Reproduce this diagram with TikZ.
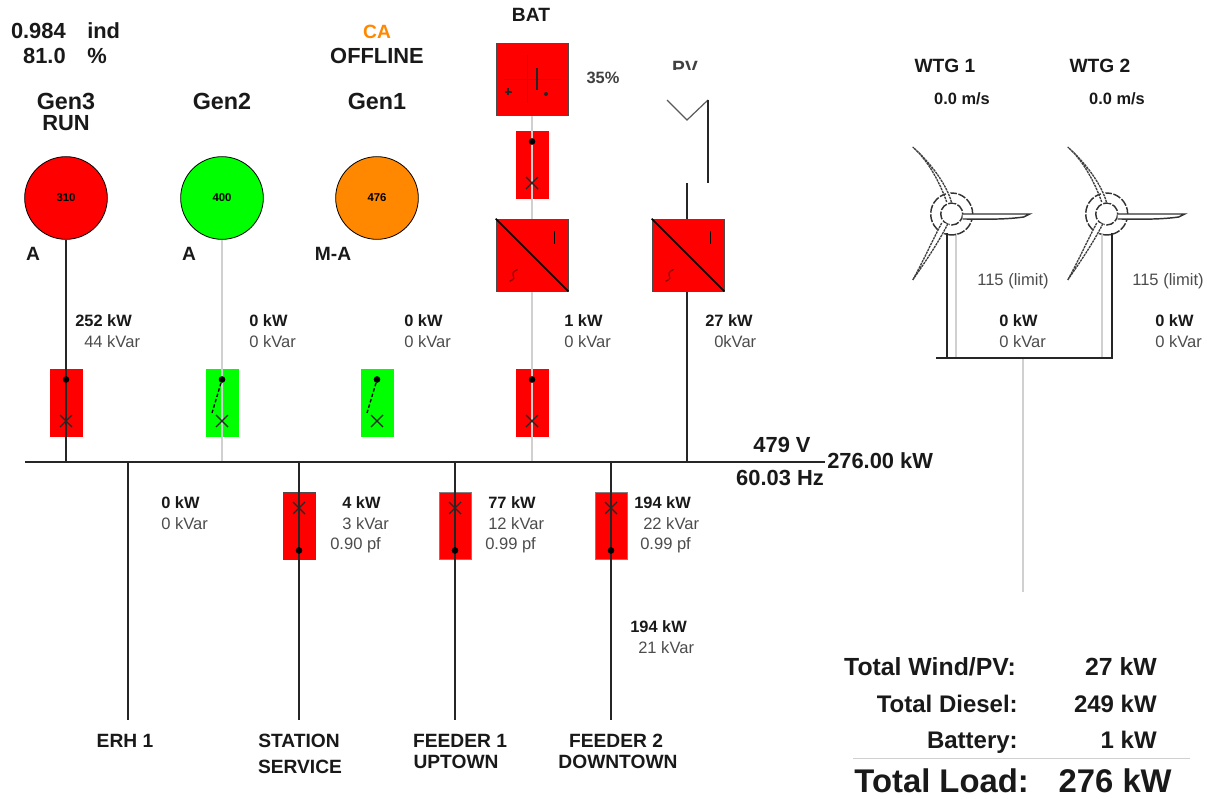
\documentclass[tikz,border=0pt]{standalone}
\usepackage{fontspec}
\setmainfont{Liberation Sans}
\usetikzlibrary{calc}
\definecolor{rd}{RGB}{255,0,0}
\definecolor{gr}{RGB}{0,255,0}
\definecolor{og}{RGB}{255,136,0}
\definecolor{pale}{RGB}{208,208,208}
\newcommand{\fs}[1]{\fontsize{#1}{#1}\selectfont}
\tikzset{
 x=0.75pt,y=-0.75pt,
 wire/.style={line width=1.4pt,black!85},
 gwire/.style={line width=1.1pt,pale},
 sm/.style={inner sep=0,font=\fs{12.4},text=black!70},
 smb/.style={inner sep=0,font=\fs{12.3}\bfseries,text=black!90},
 mid/.style={inner sep=0,font=\fs{14.4}\bfseries,text=black!90},
 big/.style={inner sep=0,font=\fs{17.5}\bfseries,text=black!90},
 lrg/.style={inner sep=0,font=\fs{16.4}\bfseries,text=black!90},
 tot/.style={inner sep=0,font=\fs{18.6}\bfseries,anchor=east,text=black!90},
 grand/.style={inner sep=0,font=\fs{24.6}\bfseries,anchor=east,text=black!90},
 brk/.style={minimum width=24pt,minimum height=50pt,inner sep=0,line width=.5pt},
 conv/.style={fill=rd,minimum width=54pt,minimum height=54pt,inner sep=0,draw=black!70,line width=.5pt},
 gen/.style={circle,minimum width=62pt,inner sep=0,draw=black,line width=.6pt,font=\fs{8.5}\bfseries},
 dot/.style={circle,fill=black,inner sep=0,minimum width=5pt},
 blade/.style={line width=1pt,black!75,dash pattern=on 1.8pt off .6pt},
}
\newcommand{\xmark}[1]{\draw[line width=.9pt,black!85] ($(#1)+(-6,-6)$)--++(12,12) ($(#1)+(6,-6)$)--++(-12,12);}
% box of a breaker: name, x, y, fill, edge
\newcommand{\brkbox}[5]{\node[brk,fill=#4,draw=#5] (#1) at (#2,#3) {};}
% marks of a breaker: name, x, dot y, cross y, open (0/1)
\newcommand{\brkmarks}[5]{%
 \node[dot] (#1d) at (#2,#3) {};
 \coordinate (#1x) at (#2,#4);
 \xmark{#1x}
 \ifnum#5=1 \draw[line width=1pt,dash pattern=on 2.6pt off 1.6pt] (#1d)--($(#1x)+(-10,-8)$);\fi
}
\newcommand{\convmarks}[1]{%
 \draw[line width=1.1pt] (#1.north west)--(#1.south east);
 \draw[line width=1.2pt] ($(#1.north east)+(-14,12)$)--++(0,13);
 \draw[line width=.9pt,black!45!rd] ($(#1.south west)+(14,-10)$) .. controls ($(#1.south west)+(25,-15)$) and ($(#1.south west)+(10,-16)$) .. ($(#1.south west)+(22,-22)$);
}
\newcommand{\turbine}[2]{%
 \begin{scope}[shift={(#1,#2)}]
 \draw[line width=1.1pt,black!80,dash pattern=on 6pt off 1.2pt] (0,0) circle[radius=21];
 \fill[white] (0,0) circle[radius=11];
 \draw[line width=1.1pt,black!80,dash pattern=on 6pt off 1.2pt] (0,0) circle[radius=11];
 \fill[white] (-3,-13) .. controls (-10,-34) and (-24,-54) .. (-39,-67) .. controls (-20,-52) and (-4,-30) .. (3,-11) -- cycle;
 \draw[blade] (-5,-12) .. controls (-12,-32) and (-24,-54) .. (-39,-67) .. controls (-22,-52) and (-5,-30) .. (0,-11);
 \fill[white] (-10,8) -- (-39,66) -- (-2,11) -- cycle;
 \draw[blade] (-10,9) .. controls (-20,28) and (-30,50) .. (-39,66) .. controls (-28,50) and (-14,30) .. (-4,10);
 \fill[white] (11,0) -- (78,0) -- (66,5) -- (11,5) -- cycle;
 \draw[line width=1.1pt,black!80] (11,0) -- (78,0) -- (72,3) .. controls (50,6) and (30,5) .. (11,5);
 \end{scope}
}
\begin{document}
\begin{tikzpicture}
\useasboundingbox (0,0) rectangle (1207,799);
\coordinate (busW) at (25,462); \coordinate (busE) at (825,462);
\coordinate (g3b) at (66,462); \coordinate (g2b) at (222,462);
\coordinate (batb) at (532,462); \coordinate (pvb) at (687,462);
\coordinate (pvt) at (687,183);
\coordinate (bat0) at (532,115);
\coordinate (e1) at (128,462); \coordinate (e2) at (128,720);
\coordinate (s1) at (299,462); \coordinate (s2) at (299,720);
\coordinate (f1) at (455,462); \coordinate (f2) at (455,720);
\coordinate (h1) at (611,462); \coordinate (h2) at (611,720);
% breaker boxes
\brkbox{b3}{66.5}{402.5}{rd}{rd}
\brkbox{b2}{222}{402.5}{gr}{gr}
\brkbox{b1}{377}{402.5}{gr}{gr}
\brkbox{bb}{532}{402.5}{rd}{rd}
\brkbox{bu}{532}{164.5}{rd}{rd}
\brkbox{bs}{299.5}{526}{rd}{black!70}
\brkbox{bf}{455}{526}{rd}{black!50}
\brkbox{bh}{611}{526}{rd}{black!50}
% wires
\draw[gwire] (222,240)--(g2b);
\draw[gwire] (bat0)--(batb);
\draw[wire] (pvt)--(pvb);
% generators
\node[gen,fill=rd] (gen3) at (66,198) {310};
\node[gen,fill=gr] (gen2) at (222,198) {400};
\node[gen,fill=og] (gen1) at (377,198) {476};
\draw[wire] (gen3)--(g3b);
\draw[wire] (e1)--(e2);
\draw[wire] (s1)--(s2);
\draw[wire] (f1)--(f2);
\draw[wire] (h1)--(h2);
\draw[wire] (busW)--(busE);
% breaker marks
\brkmarks{b3}{66}{379.5}{421}{0}
\brkmarks{b2}{222}{379.5}{421}{1}
\brkmarks{b1}{377}{379.5}{421}{1}
\brkmarks{bb}{532}{379.5}{421}{0}
\brkmarks{bu}{532}{141.5}{183}{0}
\brkmarks{bs}{299}{550.5}{508}{0}
\brkmarks{bf}{455}{550.5}{508}{0}
\brkmarks{bh}{611}{550.5}{508}{0}
% battery
\node[fill=rd,draw=black!70,line width=.5pt,minimum width=54pt,minimum height=54pt,inner sep=0] (bat) at (532,79) {};
\draw[line width=.5pt,black!15!rd] (504,79)--(561,79) (527.5,55)--(527.5,103);
\draw[line width=1.2pt,black!85] (537,68)--(537,90);
\draw[line width=1.4pt,black!85] (504.5,92)--(511.5,92) (508,88.5)--(508,95.5);
\fill[black!85] (546,94) circle[radius=2];
% converters
\node[conv] (cb) at (532,255) {};
\node[conv] (cp) at (688,255) {};
\convmarks{cb}
\convmarks{cp}
% PV
\coordinate (pva) at (667,100); \coordinate (pvc) at (687,120); \coordinate (pvd) at (708,100); \coordinate (pve) at (708,183);
\draw[line width=.9pt,black!65] (pva)--(pvc)--(pvd);
\draw[wire] (pvd)--(pve);
% wind
\coordinate (wl) at (936,358); \coordinate (wr) at (1113,358);
\coordinate (wm) at (1023,358); \coordinate (wd) at (1023,592);
\draw[gwire] (wm)--(wd);
\draw[wire] (946.7,233)--(946.7,358);
\draw[gwire] (956,233)--(956,358);
\draw[gwire] (1102,233)--(1102,358);
\draw[wire] (1112,233)--(1112,358);
\draw[wire] (wl)--(wr);
\turbine{951.7}{214}
\turbine{1106.7}{214}
% texts
\node[lrg,anchor=east] (pf) at (66,31) {0.984};
\node[lrg,anchor=west] (pfu) at (87,31) {ind};
\node[lrg,anchor=east] (pct) at (66,56) {81.0};
\node[lrg,anchor=west] (pctu) at (87,56) {\%};
\node[mid,text=og] (ca) at (377,32) {CA};
\node[lrg] (off) at (377,56) {OFFLINE};
\node[big] (tg3) at (66,101.5) {Gen3};
\node[lrg] (run) at (66,123) {RUN};
\node[big] (tg2) at (222,101.5) {Gen2};
\node[big] (tg1) at (377,101.5) {Gen1};
\node[mid] (a3) at (33,254) {A};
\node[mid] (a2) at (189,254) {A};
\node[mid] (a1) at (333,254) {M-A};
\node[mid] (tbat) at (531,15) {BAT};
\node[smb,text=black!75] (soc) at (603,78) {35\%};
\begin{scope}
\clip (660,55) rectangle (712,70);
\node[mid,text=black!75] (tpv) at (685,68) {PV};
\end{scope}
\node[mid] (w1) at (945,66) {WTG 1};
\node[mid] (w2) at (1100,66) {WTG 2};
\node[smb] (v1) at (962,99) {0.0 m/s};
\node[smb] (v2) at (1117,99) {0.0 m/s};
\node[sm] (l1) at (1013,281) {115 (limit)};
\node[sm] (l2) at (1168,281) {115 (limit)};
\node[smb,anchor=west] (wp1) at (999,321) {0 kW};
\node[sm,anchor=west] (wq1) at (999,342) {0 kVar};
\node[smb,anchor=west] (wp2) at (1155,321) {0 kW};
\node[sm,anchor=west] (wq2) at (1155,342) {0 kVar};
\node[smb,anchor=west] (p3) at (75,321) {252 kW};
\node[sm,anchor=west] (q3) at (84,342) {44 kVar};
\node[smb,anchor=west] (p2) at (249,321) {0 kW};
\node[sm,anchor=west] (q2) at (249,342) {0 kVar};
\node[smb,anchor=west] (p1) at (404,321) {0 kW};
\node[sm,anchor=west] (q1) at (404,342) {0 kVar};
\node[smb,anchor=west] (pb) at (564,321) {1 kW};
\node[sm,anchor=west] (qb) at (564,342) {0 kVar};
\node[smb,anchor=west] (ppv) at (705,321) {27 kW};
\node[sm,anchor=west] (qpv) at (714,342) {0kVar};
\node[lrg] (volt) at (782,445) {479 V};
\node[lrg] (hz) at (780,478) {60.03 Hz};
\node[lrg,anchor=west] (kw) at (827,461) {276.00 kW};
\node[smb,anchor=west] (pe) at (161,503) {0 kW};
\node[sm,anchor=west] (qe) at (161,524) {0 kVar};
\node[smb,anchor=west] (ps) at (342,503) {4 kW};
\node[sm,anchor=west] (qs) at (342,524) {3 kVar};
\node[sm,anchor=west] (fs) at (330,545) {0.90 pf};
\node[smb,anchor=west] (pf1) at (488,503) {77 kW};
\node[sm,anchor=west] (qf1) at (488,524) {12 kVar};
\node[sm,anchor=west] (ff1) at (485,545) {0.99 pf};
\node[smb,anchor=west] (pf2) at (634,503) {194 kW};
\node[sm,anchor=west] (qf2) at (643,524) {22 kVar};
\node[sm,anchor=west] (ff2) at (640,545) {0.99 pf};
\node[smb,anchor=west] (pf3) at (630,627) {194 kW};
\node[sm,anchor=west] (qf3) at (638,648) {21 kVar};
\node[mid] (n1) at (125,741) {ERH 1};
\node[mid] (n2a) at (299,741) {STATION};
\node[mid] (n2b) at (300,767) {SERVICE};
\node[mid] (n3a) at (460,741) {FEEDER 1};
\node[mid] (n3b) at (456,762) {UPTOWN};
\node[mid] (n4a) at (616,741) {FEEDER 2};
\node[mid] (n4b) at (618,762) {DOWNTOWN};
\node[tot] (t1) at (1016,667) {Total Wind/PV:};
\node[tot] (v1t) at (1157,667) {27 kW};
\node[tot,font=\fs{18}\bfseries] (t2) at (1018,704) {Total Diesel:};
\node[tot,font=\fs{18}\bfseries] (v2t) at (1157,704) {249 kW};
\node[tot,font=\fs{18}\bfseries] (t3) at (1018,743) {Battery:};
\node[tot,font=\fs{18}\bfseries] (v3t) at (1157,740) {1 kW};
\coordinate (rl) at (853,758); \coordinate (rr) at (1190,758);
\draw[line width=.6pt,pale] (rl)--(rr);
\node[grand] (t4) at (1029,781) {Total Load:};
\node[grand] (v4t) at (1172,781) {276 kW};
\end{tikzpicture}
\end{document}
